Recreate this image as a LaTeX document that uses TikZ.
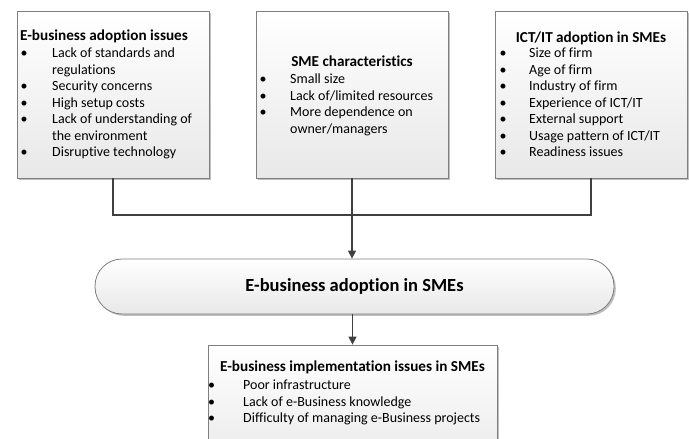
\documentclass[tikz,border=0pt]{standalone}
\usepackage{fontspec}
\setmainfont[Ligatures=NoCommon]{Carlito}
\usetikzlibrary{arrows.meta,shadows}
\definecolor{boxgray}{HTML}{7F7F7F}
\definecolor{linegray}{HTML}{404040}
\newcommand\lst[2]{\begin{tabular}[t]{@{}p{#1pt}@{}l@{}}#2\end{tabular}}
\begin{document}
\begin{tikzpicture}[x=1pt,y=-1pt,
  shadowed/.style={drop shadow={shadow xshift=1.8pt,shadow yshift=-1.8pt,opacity=0.25,fill=black}},
  box/.style={draw=boxgray,line width=0.8pt,top color=white,bottom color=black!9,
    shadowed,minimum width=192pt,minimum height=167pt,inner sep=0pt},
  bigbox/.style={box,minimum width=289pt,minimum height=130pt},
  pill/.style={draw=boxgray,line width=0.8pt,top color=white,bottom color=black!9,
    shadowed,rounded corners=27pt,minimum width=519pt,minimum height=55pt,inner sep=0pt,
    font=\fontsize{18.5}{22}\selectfont\bfseries},
  ttl/.style={inner sep=0pt,anchor=base,font=\fontsize{15.2}{18}\selectfont\bfseries},
  items/.style={inner sep=0pt,anchor=base west,font=\fontsize{14}{16.5}\selectfont},
  conn/.style={draw=linegray,line width=1.3pt},
  arr/.style={conn,-{Triangle[width=8pt,length=8pt]}}
]
\useasboundingbox (0,0) rectangle (689,439);
\clip (0,0) rectangle (689,439);

\node[box] (b1) at (113,94.5) {};
\node[box] (b2) at (352,94.5) {};
\node[box] (b3) at (591,94.5) {};
\node[pill] (pill) at (354.5,286.5) {E-business adoption in SMEs};
\node[bigbox] (b4) at (352.5,410) {};

\node[ttl,anchor=base west] (t1) at (20,40) {E-business adoption issues};
\node[items] (l1) at (20.5,57.5) {\lst{31.5}{%
  •&Lack of standards and\\
  &regulations\\
  •&Security concerns\\
  •&High setup costs\\
  •&Lack of understanding of\\
  &the environment\\
  •&Disruptive technology}};

\node[ttl] (t2) at (352,66.5) {SME characteristics};
\node[items] (l2) at (259.5,83.5) {\lst{30.5}{%
  •&Small size\\
  •&Lack of/limited resources\\
  •&More dependence on\\
  &owner/managers}};

\node[ttl] (t3) at (591,42.5) {ICT/IT adoption in SMEs};
\node[items] (l3) at (499.5,57.5) {\lst{29.5}{%
  •&Size of firm\\
  •&Age of firm\\
  •&Industry of firm\\
  •&Experience of ICT/IT\\
  •&External support\\
  •&Usage pattern of ICT/IT\\
  •&Readiness issues}};

\node[ttl] (t4) at (352.5,371.5) {E-business implementation issues in SMEs};
\node[items] (l4) at (208,389.5) {\lst{35}{%
  •&Poor infrastructure\\
  •&Lack of e-Business knowledge\\
  •&Difficulty of managing e-Business projects}};

\coordinate (j) at (352,215);
\draw[conn] (b1.south) |- (j);
\draw[conn] (b3.south) |- (j);
\draw[conn] (b2.south) -- (j);
\draw[arr] (j) -- (j |- pill.north);
\draw[arr] (b4.north |- pill.south) -- (b4.north);
\end{tikzpicture}
\end{document}
